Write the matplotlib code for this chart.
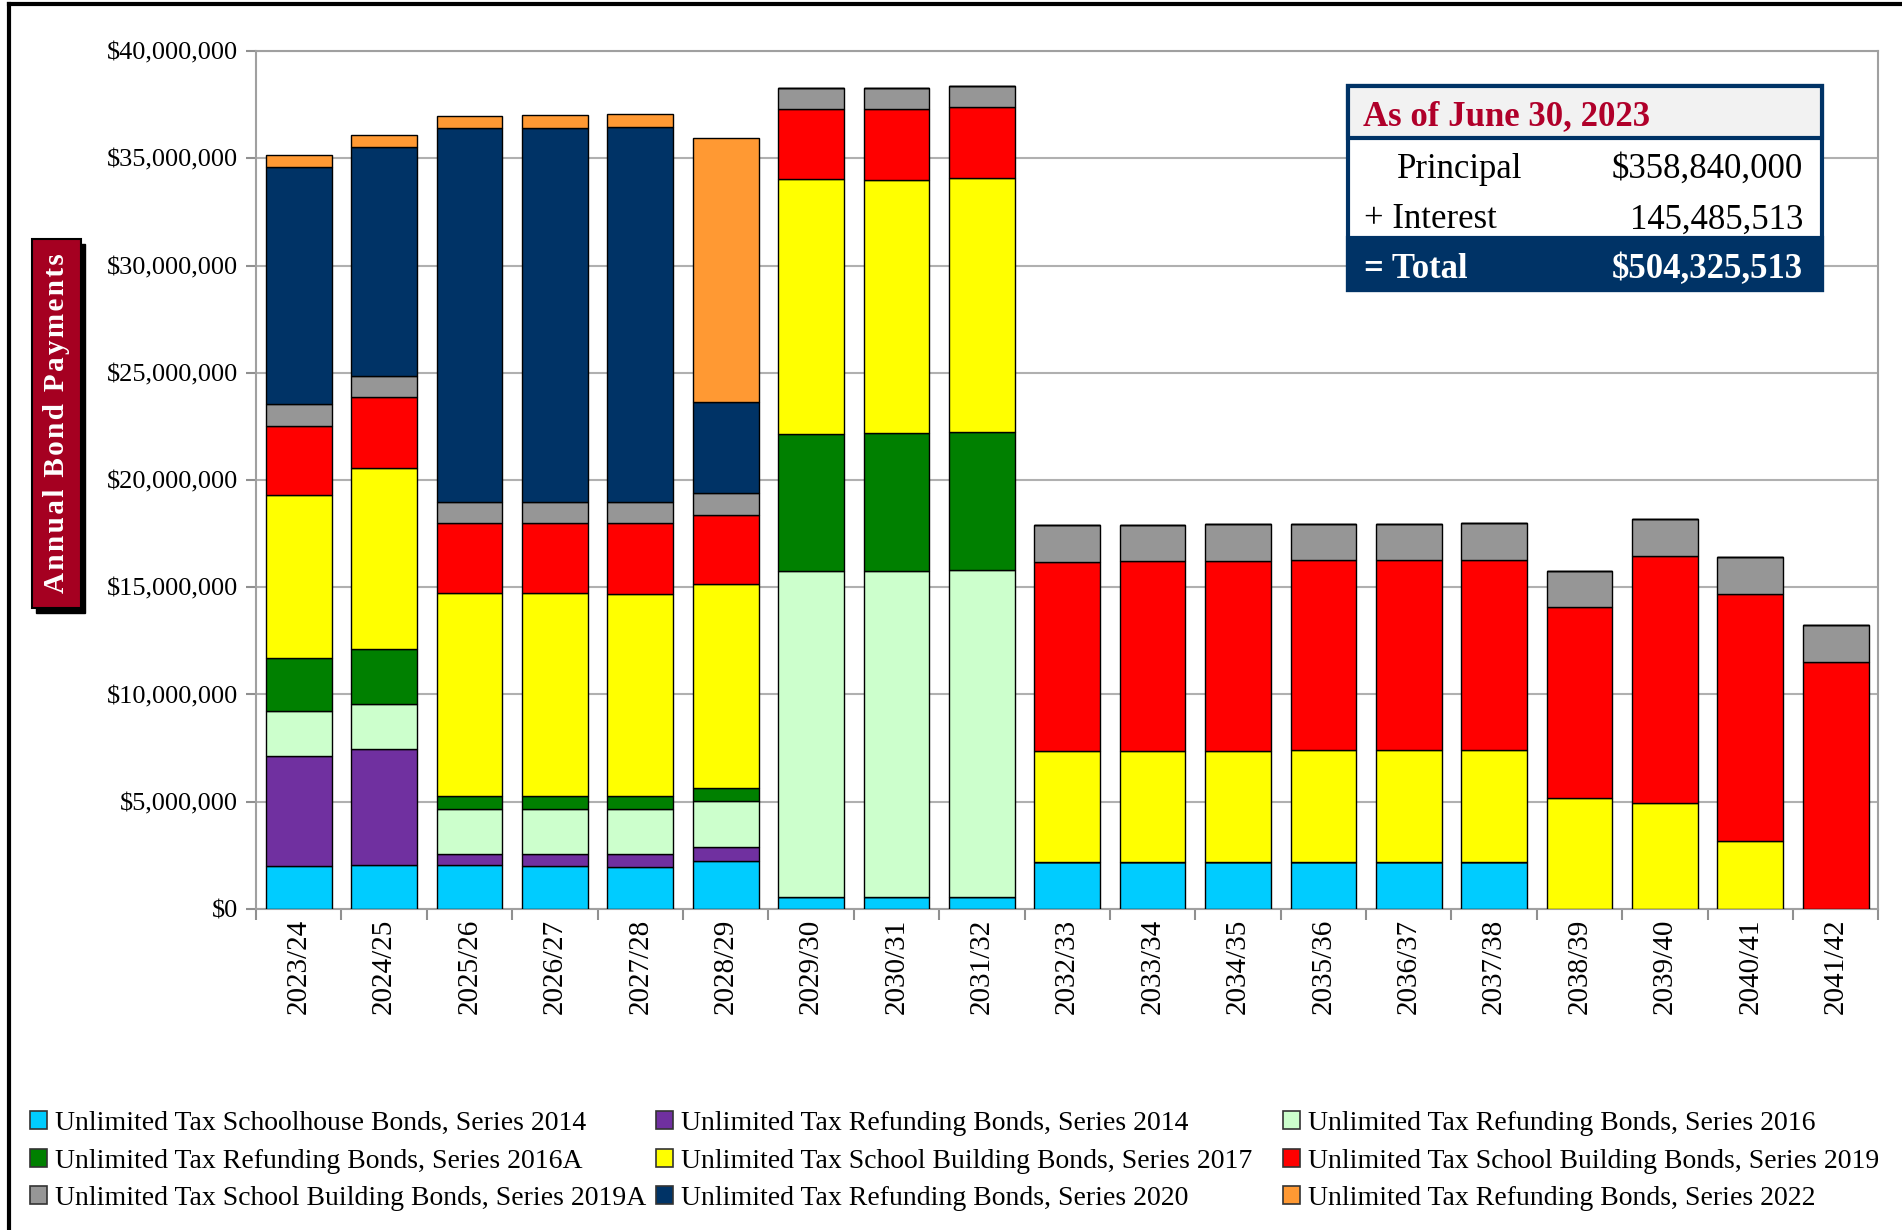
import matplotlib.pyplot as plt
import numpy as np
from matplotlib.patches import Rectangle
from matplotlib.lines import Line2D
from matplotlib.ticker import FuncFormatter, FixedLocator

plt.rcParams["font.family"] = ["Liberation Serif", "DejaVu Serif"]

years = ["2023/24", "2024/25", "2025/26", "2026/27", "2027/28", "2028/29", "2029/30",
         "2030/31", "2031/32", "2032/33", "2033/34", "2034/35", "2035/36", "2036/37",
         "2037/38", "2038/39", "2039/40", "2040/41", "2041/42"]

# annual payments per issue, $ millions
schoolhouse_2014 = [2.02, 2.03, 2.03, 2.01, 1.97, 2.22, 0.56, 0.56, 0.56, 2.20, 2.21, 2.21, 2.21, 2.21, 2.21, 0, 0, 0, 0]
refunding_2014 = [5.11, 5.41, 0.53, 0.55, 0.58, 0.68, 0, 0, 0, 0, 0, 0, 0, 0, 0, 0, 0, 0, 0]
refunding_2016 = [2.10, 2.11, 2.11, 2.09, 2.09, 2.13, 15.18, 15.21, 15.24, 0, 0, 0, 0, 0, 0, 0, 0, 0, 0]
refunding_2016a = [2.45, 2.57, 0.61, 0.63, 0.61, 0.59, 6.41, 6.40, 6.43, 0, 0, 0, 0, 0, 0, 0, 0, 0, 0]
building_2017 = [7.60, 8.46, 9.43, 9.43, 9.44, 9.51, 11.87, 11.82, 11.86, 5.15, 5.15, 5.15, 5.18, 5.18, 5.20, 5.17, 4.94, 3.17, 0]
building_2019 = [3.26, 3.29, 3.28, 3.28, 3.30, 3.26, 3.29, 3.29, 3.28, 8.82, 8.86, 8.87, 8.87, 8.89, 8.88, 8.89, 11.52, 11.52, 11.52]
building_2019a = [0.99, 1.00, 0.99, 0.99, 0.99, 1.01, 0.99, 1.00, 1.01, 1.71, 1.69, 1.70, 1.71, 1.69, 1.71, 1.71, 1.71, 1.73, 1.71]
refunding_2020 = [11.05, 10.64, 17.41, 17.44, 17.46, 4.24, 0, 0, 0, 0, 0, 0, 0, 0, 0, 0, 0, 0, 0]
refunding_2022 = [0.59, 0.56, 0.59, 0.59, 0.61, 12.30, 0, 0, 0, 0, 0, 0, 0, 0, 0, 0, 0, 0, 0]

series = [
    ("Unlimited Tax Schoolhouse Bonds, Series 2014", schoolhouse_2014, "#00CCFF"),
    ("Unlimited Tax Refunding Bonds, Series 2014", refunding_2014, "#7030A0"),
    ("Unlimited Tax Refunding Bonds, Series 2016", refunding_2016, "#CCFFCC"),
    ("Unlimited Tax Refunding Bonds, Series 2016A", refunding_2016a, "#008000"),
    ("Unlimited Tax School Building Bonds, Series 2017", building_2017, "#FFFF00"),
    ("Unlimited Tax School Building Bonds, Series 2019", building_2019, "#FF0000"),
    ("Unlimited Tax School Building Bonds, Series 2019A", building_2019a, "#969696"),
    ("Unlimited Tax Refunding Bonds, Series 2020", refunding_2020, "#003366"),
    ("Unlimited Tax Refunding Bonds, Series 2022", refunding_2022, "#FF9933"),
]

summary_rows = [("Principal", "$358,840,000"), ("+ Interest", "145,485,513"), ("= Total", "$504,325,513")]

W, H = 1902, 1230
def fx(px):
    return px / W
def fy(py):
    return 1 - py / H

fig = plt.figure(figsize=(19.02, 12.30), dpi=100)
ax = fig.add_axes([0.1346, 0.261, 0.853, 0.6975])

x = np.arange(len(years))
bottom = np.zeros(len(years))
handles = []
for label, vals, color in series:
    v = np.array(vals) * 1e6
    ax.bar(x, v, 0.77, bottom=bottom, color=color, edgecolor="black", linewidth=1.0, zorder=3)
    bottom += v
    handles.append(Rectangle((0, 0), 1, 1, facecolor=color, edgecolor="#333333", linewidth=1.2, label=label))

ax.set_xlim(-0.5, len(years) - 0.5)
ax.set_ylim(0, 40e6)
ax.set_yticks(np.arange(0, 40e6 + 1, 5e6))
ax.yaxis.set_major_formatter(FuncFormatter(lambda v, p: f"${v:,.0f}"))
ax.grid(axis="y", color="#B0B0B0", linewidth=1.5, zorder=0)
ax.set_xticks(x)
ax.set_xticklabels(years, rotation=90, fontsize=21)
ax.xaxis.set_minor_locator(FixedLocator(np.arange(-0.5, len(years), 1)))
ax.tick_params(axis="x", which="major", length=0, pad=7)
ax.tick_params(axis="x", which="minor", length=8, width=1.5, color="#909090")
ax.tick_params(axis="y", length=7, width=1.5, color="#909090", labelsize=19, pad=6)
for s in ax.spines.values():
    s.set_color("#A0A0A0")
    s.set_linewidth(1.5)

# y axis title: red box with a black drop shadow, letters spread out
fig.patches.append(Rectangle((fx(36), fy(613)), fx(49), fy(239) - fy(608), transform=fig.transFigure,
                             facecolor="black", edgecolor="black", zorder=1))
fig.patches.append(Rectangle((fx(32), fy(608)), fx(49), fy(239) - fy(608), transform=fig.transFigure,
                             facecolor="#A50021", edgecolor="black", linewidth=1.5, zorder=2))
fig.text(fx(57), fy(423), "\u200a".join("Annual Bond Payments"), rotation=90, ha="center", va="center",
         fontsize=21, fontweight="bold", color="white", zorder=3)

# summary box
bx0, bx1 = fx(1348), fx(1822)
fig.patches.append(Rectangle((bx0, fy(290)), bx1 - bx0, fy(86) - fy(290), transform=fig.transFigure,
                             facecolor="white", edgecolor="#003366", linewidth=3, zorder=5))
fig.patches.append(Rectangle((bx0, fy(138)), bx1 - bx0, fy(86) - fy(138), transform=fig.transFigure,
                             facecolor="#F2F2F2", edgecolor="#003366", linewidth=3, zorder=6))
fig.patches.append(Rectangle((bx0, fy(290)), bx1 - bx0, fy(238) - fy(290), transform=fig.transFigure,
                             facecolor="#003366", edgecolor="#003366", linewidth=3, zorder=6))
fig.text(fx(1363), fy(117), "As of June 30, 2023", fontsize=25, fontweight="bold", color="#B0002A",
         ha="left", va="center", zorder=7)
row_y = [169, 220, 270]
for i, (name, val) in enumerate(summary_rows):
    last = i == len(summary_rows) - 1
    col = "white" if last else "black"
    wt = "bold" if last else "normal"
    nx = 1397 if i == 0 else 1364
    fig.text(fx(nx), fy(row_y[i]), name, fontsize=25, color=col, fontweight=wt, ha="left", va="center", zorder=7)
    fig.text(fx(1803), fy(row_y[i]), val, fontsize=25, color=col, fontweight=wt, ha="right", va="center", zorder=7)

# legend: three fixed columns, filled row by row like the original
col_x = [19, 645, 1272]
for c in range(3):
    hs = handles[c::3]
    fig.legend(hs, [h.get_label() for h in hs], loc="upper left",
               bbox_to_anchor=(fx(col_x[c]), 0.1057), frameon=False, fontsize=20,
               handlelength=0.6, handleheight=0.6, handletextpad=0.3,
               labelspacing=0.45, borderaxespad=0)

# outer frame (top and left edges visible)
fig.add_artist(Line2D([0.0045, 0.0045], [0, 0.9965], transform=fig.transFigure, color="black", linewidth=3))
fig.add_artist(Line2D([0.0045, 1], [0.9965, 0.9965], transform=fig.transFigure, color="black", linewidth=3))

fig.savefig("out.png", dpi=100)
